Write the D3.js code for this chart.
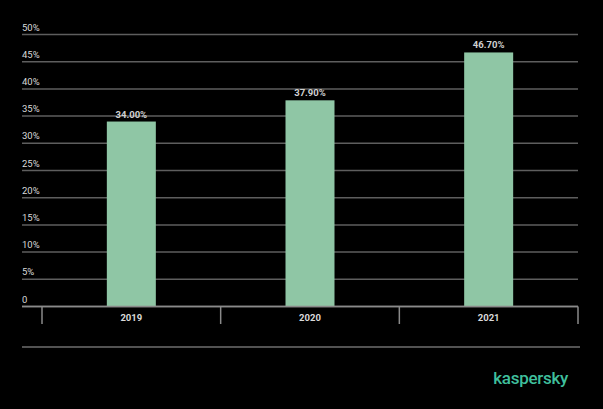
<!DOCTYPE html>
<html><head><meta charset="utf-8">
<script src="https://cdn.jsdelivr.net/npm/d3@7"></script>
<style>html,body{margin:0;padding:0;background:#000;}svg{display:block;}</style>
</head><body>
<script>
const categories = ["2019", "2020", "2021"];
const values = [34.0, 37.9, 46.7];
const valueLabels = ["34.00%", "37.90%", "46.70%"];
const yTicks = [0, 5, 10, 15, 20, 25, 30, 35, 40, 45, 50];
const yTickLabels = ["0", "5%", "10%", "15%", "20%", "25%", "30%", "35%", "40%", "45%", "50%"];

const W = 603, H = 409;
const svg = d3.select("body").append("svg").attr("width", W).attr("height", H)
  .style("background", "#000");

const y = d3.scaleLinear().domain([0, 50]).range([306.5, 34.5]);
const x = d3.scaleBand().domain(categories).range([42, 578]).paddingInner(0).paddingOuter(0);
const barW = 49;
const gridL = 22, gridR = 578;

// gridlines
svg.append("g").selectAll("line").data(yTicks).join("line")
  .attr("x1", gridL).attr("x2", gridR)
  .attr("y1", d => y(d)).attr("y2", d => y(d))
  .attr("stroke", d => d === 0 ? "#8a8a8a" : "#5e5e5e").attr("stroke-width", 1.5);

// y labels
svg.append("g").selectAll("text").data(yTicks).join("text")
  .attr("x", gridL).attr("y", d => y(d) - 4)
  .attr("fill", "#d9d9d9").attr("font-family", "Roboto, 'Liberation Sans', sans-serif")
  .attr("font-size", 9.5).text((d, i) => yTickLabels[i]);

// bars
svg.append("g").selectAll("rect").data(values).join("rect")
  .attr("x", (d, i) => x(categories[i]) + x.bandwidth() / 2 - barW / 2)
  .attr("width", barW)
  .attr("y", d => y(d)).attr("height", d => y(0) - y(d))
  .attr("fill", "#8fc6a5");

// baseline redraw on top
svg.append("line").attr("x1", gridL).attr("x2", gridR).attr("y1", y(0)).attr("y2", y(0))
  .attr("stroke", "#8a8a8a").attr("stroke-width", 1.5);

// value labels
svg.append("g").selectAll("text").data(values).join("text")
  .attr("x", (d, i) => x(categories[i]) + x.bandwidth() / 2)
  .attr("y", d => y(d) - 4)
  .attr("text-anchor", "middle")
  .attr("fill", "#d0d0d0").attr("font-family", "Roboto, 'Liberation Sans', sans-serif")
  .attr("font-size", 9.5).attr("font-weight", "bold")
  .text((d, i) => valueLabels[i]);

// x axis ticks
const tickXs = [x.range()[0]].concat(categories.map(c => x(c) + x.bandwidth()));
svg.append("g").selectAll("line").data(tickXs).join("line")
  .attr("x1", d => d).attr("x2", d => d).attr("y1", y(0)).attr("y2", 324)
  .attr("stroke", "#8a8a8a").attr("stroke-width", 1.5);

// category labels
svg.append("g").selectAll("text").data(categories).join("text")
  .attr("x", d => x(d) + x.bandwidth() / 2).attr("y", 321)
  .attr("text-anchor", "middle")
  .attr("fill", "#d9d9d9").attr("font-family", "Roboto, 'Liberation Sans', sans-serif")
  .attr("font-size", 9.5).attr("font-weight", "bold").text(d => d);

// bottom separator line
svg.append("line").attr("x1", gridL).attr("x2", 580).attr("y1", 347).attr("y2", 347)
  .attr("stroke", "#6e6e6e").attr("stroke-width", 1.5);

// logo text
svg.append("text").attr("x", 568).attr("y", 384).attr("text-anchor", "end")
  .attr("fill", "#3fbf9c").attr("font-family", "Roboto, 'Liberation Sans', sans-serif")
  .attr("font-size", 17).attr("font-weight", "500").attr("letter-spacing", -0.3)
  .text("kaspersky");
</script>
</body></html>
